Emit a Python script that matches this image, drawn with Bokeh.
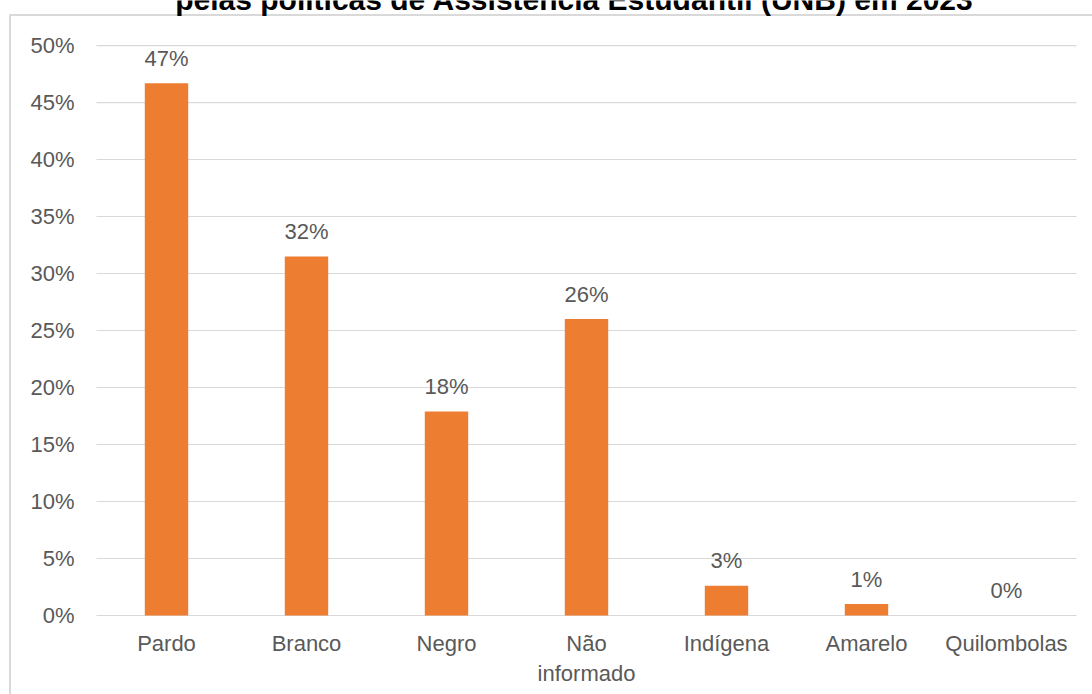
from bokeh.plotting import figure
from bokeh.models import ColumnDataSource, Range1d, Label, NumeralTickFormatter, FixedTicker
from bokeh.core.properties import value
from bokeh.embed import file_html
from bokeh.resources import INLINE

categories = ["Pardo", "Branco", "Negro", "Não\ninformado", "Indígena", "Amarelo", "Quilombolas"]
values = [0.467, 0.315, 0.179, 0.260, 0.026, 0.010, 0.0]
value_labels = ["47%", "32%", "18%", "26%", "3%", "1%", "0%"]
y_ticks = [0, 0.05, 0.1, 0.15, 0.2, 0.25, 0.3, 0.35, 0.4, 0.45, 0.5]
title_text = "pelas políticas de Assistência Estudantil (UNB) em 2023"

FONT = "Liberation Sans"
GREY_TXT = "#595959"
ORANGE = "#ED7D31"
GRID = "#D9D9D9"

W, H = 1092, 694
# frame covers the whole canvas; ranges chosen so the plot area sits like the original
X_START, X_END = -1.1857, 6.6143
Y_START, Y_END = -0.0693, 0.5395

idx = list(range(len(categories)))
src = ColumnDataSource(dict(x=idx, val=values, lab=value_labels))

p = figure(
    width=W, height=H, x_range=Range1d(X_START, X_END), y_range=Range1d(Y_START, Y_END),
    output_backend="svg", toolbar_location=None,
    min_border_left=0, min_border_right=0, min_border_top=0, min_border_bottom=0,
)
p.outline_line_color = None
p.background_fill_color = "white"
p.border_fill_color = "white"

# chart-area border (left and top edges)
px_x = (X_END - X_START) / W
px_y = (Y_END - Y_START) / H
bx = X_START + 9.5 * px_x
by = Y_END - 14.5 * px_y
p.line(x=[bx, bx, X_END + 1], y=[Y_START - 1, by, by], line_color=GRID, line_width=2)

# horizontal gridlines limited to the plot area (category span)
n = len(y_ticks)
p.segment(x0=[idx[0] - 0.5] * n, x1=[idx[-1] + 0.5] * n, y0=y_ticks, y1=y_ticks,
          line_color=GRID, line_width=1.2)

p.vbar(x="x", top="val", width=0.31, source=src, fill_color=ORANGE, line_color=None)
p.text(x="x", y="val", text="lab", source=src, text_align="center", text_baseline="middle",
       y_offset=-25, text_font_size="22px", text_color=GREY_TXT, text_font=value(FONT))

# axes drawn inside the frame
p.yaxis.ticker = FixedTicker(ticks=y_ticks)
p.yaxis.formatter = NumeralTickFormatter(format="0%")
p.yaxis.fixed_location = -0.5
p.xaxis.ticker = FixedTicker(ticks=idx)
p.xaxis.major_label_overrides = {i: c for i, c in zip(idx, categories)}
p.xaxis.fixed_location = 0
for ax in (p.xaxis[0], p.yaxis[0]):
    ax.axis_line_color = None
    ax.major_tick_line_color = None
    ax.minor_tick_line_color = None
    ax.major_label_text_font = FONT
    ax.major_label_text_font_size = "22px"
    ax.major_label_text_color = GREY_TXT
    ax.major_tick_out = 0
    ax.major_tick_in = 0
p.yaxis.major_label_standoff = 22
p.xaxis.major_label_standoff = 15
p.xgrid.grid_line_color = None
p.ygrid.grid_line_color = None

# cropped title at the very top
p.add_layout(Label(x=574, y=H + 1, x_units="screen", y_units="screen", text=title_text,
                   text_align="center", text_baseline="alphabetic",
                   text_font=FONT, text_font_style="bold", text_font_size="30px",
                   text_color="black"))

open("out.html", "w").write(file_html(p, INLINE))
